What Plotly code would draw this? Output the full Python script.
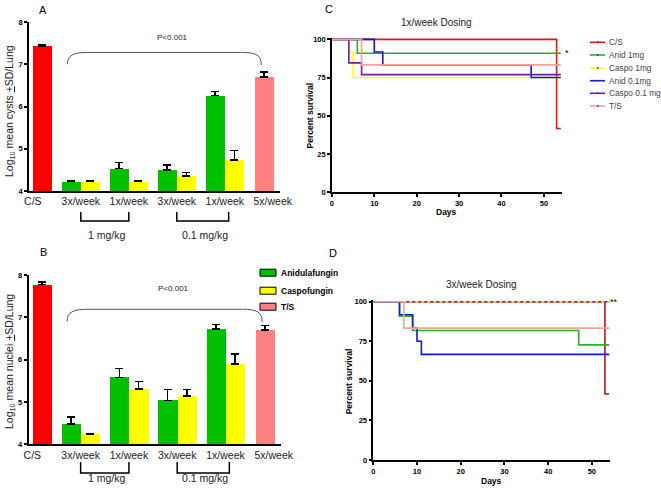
import plotly.graph_objects as go
import numpy as np

# ---------------- data ----------------
categories = ["C/S", "3x/week", "1x/week", "3x/week", "1x/week", "5x/week"]
dose_groups = ["1 mg/kg", "0.1 mg/kg"]
bar_series = ["Anidulafungin", "Caspofungin", "T/S"]

# Panel A: log10 mean cysts
cs_A, cs_A_sd = [7.43], [0.04]
anid_A = [4.22, 4.53, 4.50, 6.26]
anid_A_sd = [0.02, 0.15, 0.12, 0.10]
caspo_A = [4.22, 4.22, 4.36, 4.73]
caspo_A_sd = [0.02, 0.02, 0.08, 0.23]
ts_A, ts_A_sd = [6.70], [0.12]

# Panel B: log10 mean nuclei
cs_B, cs_B_sd = [7.77], [0.06]
anid_B = [4.48, 5.58, 5.04, 6.72]
anid_B_sd = [0.16, 0.21, 0.26, 0.11]
caspo_B = [4.24, 5.31, 5.14, 5.90]
caspo_B_sd = [0.01, 0.17, 0.16, 0.23]
ts_B, ts_B_sd = [6.70], [0.11]

# Survival curves (days, percent survival), step functions
surv_names = ["C/S", "Anid 1mg", "Caspo 1mg", "Anid 0.1mg", "Caspo 0.1 mg", "T/S"]
# Panel C: 1x/week dosing
C_cs_days, C_cs_surv = [0, 53, 54], [100, 41.7, 41.7]
C_anid1_days, C_anid1_surv = [0, 6, 54], [100, 90.9, 90.9]
C_caspo1_days, C_caspo1_surv = [0, 4, 5, 54], [100, 91.7, 75.0, 75.0]
C_anid01_days, C_anid01_surv = [0, 10, 12, 47, 54], [100, 91.7, 83.3, 75.0, 75.0]
C_caspo01_days, C_caspo01_surv = [0, 4, 7, 54], [100, 84.6, 76.9, 76.9]
C_ts_days, C_ts_surv = [0, 7, 54], [100, 83.3, 83.3]
# Panel D: 3x/week dosing
D_cs_days, D_cs_surv = [0, 53, 54], [100, 41.7, 41.7]
D_anid1_days, D_anid1_surv = [0, 6, 9, 47, 54], [100, 90.9, 81.8, 72.7, 72.7]
D_caspo1_days, D_caspo1_surv = [0, 54], [100, 100]
D_anid01_days, D_anid01_surv = [0, 6, 9, 10, 11, 54], [100, 91.7, 83.3, 75.0, 66.7, 66.7]
D_caspo01_days, D_caspo01_surv = [0, 54], [100, 100]
D_ts_days, D_ts_surv = [0, 7, 54], [100, 83.3, 83.3]

# ---------------- styling ----------------
W, H = 661, 495
FONT = "Liberation Sans, Arial, sans-serif"
RED, GREEN, YELLOW, PINK = "#FF0000", "#00C000", "#FFFF00", "#FF8080"
S_RED, S_GREEN, S_YELLOW, S_BLUE, S_PURPLE, S_PINK = (
    "#EE1111", "#22B422", "#FFFF22", "#1414E6", "#6E1E96", "#F5A0A0")

def px(x):
    return x / W

def py(y):
    return 1 - y / H

idx = np.arange(len(categories))
mid = idx[1:5]

fig = go.Figure()

def err(sd):
    return dict(type="data", array=sd, arrayminus=[0] * len(sd), symmetric=False,
                color="black", thickness=1.5, width=4)

def add_bars(xa, ya, cs, cs_sd, an, an_sd, ca, ca_sd, ts, ts_sd):
    fig.add_trace(go.Bar(x=idx[:1], y=cs, error_y=err(cs_sd), offset=0, width=0.4,
                         marker=dict(color=RED, line=dict(width=0)), xaxis=xa, yaxis=ya,
                         showlegend=False))
    fig.add_trace(go.Bar(x=mid, y=an, error_y=err(an_sd), offset=-0.4, width=0.4,
                         marker=dict(color=GREEN, line=dict(width=0)), xaxis=xa, yaxis=ya,
                         showlegend=False))
    fig.add_trace(go.Bar(x=mid, y=ca, error_y=err(ca_sd), offset=0, width=0.4,
                         marker=dict(color=YELLOW, line=dict(width=0)), xaxis=xa, yaxis=ya,
                         showlegend=False))
    fig.add_trace(go.Bar(x=idx[5:], y=ts, error_y=err(ts_sd), offset=-0.38, width=0.4,
                         marker=dict(color=PINK, line=dict(width=0)), xaxis=xa, yaxis=ya,
                         showlegend=False))

add_bars("x", "y", cs_A, cs_A_sd, anid_A, anid_A_sd, caspo_A, caspo_A_sd, ts_A, ts_A_sd)
add_bars("x2", "y2", cs_B, cs_B_sd, anid_B, anid_B_sd, caspo_B, caspo_B_sd, ts_B, ts_B_sd)

def step(xa, ya, d, s, color, dash="solid"):
    fig.add_trace(go.Scatter(x=d, y=s, mode="lines", line=dict(shape="hv", color=color,
                             width=1.6, dash=dash), xaxis=xa, yaxis=ya, showlegend=False,
                             hoverinfo="skip"))

step("x3", "y3", C_cs_days, C_cs_surv, S_RED)
step("x3", "y3", C_anid1_days, C_anid1_surv, S_GREEN)
step("x3", "y3", C_caspo1_days, C_caspo1_surv, S_YELLOW)
step("x3", "y3", C_anid01_days, C_anid01_surv, S_BLUE)
step("x3", "y3", C_caspo01_days, C_caspo01_surv, S_PURPLE)
step("x3", "y3", C_ts_days, C_ts_surv, S_PINK)

step("x4", "y4", D_caspo01_days, D_caspo01_surv, S_PURPLE)
step("x4", "y4", D_cs_days, D_cs_surv, "#B8141C")
step("x4", "y4", D_caspo1_days, D_caspo1_surv, S_YELLOW, dash="dot")
step("x4", "y4", D_anid1_days, D_anid1_surv, S_GREEN)
step("x4", "y4", D_anid01_days, D_anid01_surv, S_BLUE)
step("x4", "y4", D_ts_days, D_ts_surv, S_PINK)

# ---------------- axes ----------------
bold_tick = dict(family=FONT, size=7.5, color="black", weight="bold")
common = dict(showgrid=False, zeroline=False, showline=True, linecolor="black",
              linewidth=1.5, automargin=False)

bar_x = dict(common, range=[-0.08, 5.15], tickvals=idx, ticktext=categories, ticks="",
             tickfont=dict(family=FONT, size=10.5, color="#222"))
bar_y = dict(common, range=[4, 8], dtick=1, ticks="outside", ticklen=3, tickwidth=1.5,
             tickcolor="black", tickfont=bold_tick)
surv_x = dict(common, range=[0, 54.2], dtick=10, ticks="outside", ticklen=3, tickwidth=1.5,
              tickcolor="black", tickfont=bold_tick)
surv_y = dict(common, range=[0, 101], tickvals=[0, 25, 50, 75, 100], ticks="outside",
              ticklen=3, tickwidth=1.5, tickcolor="black", tickfont=bold_tick)

fig.update_layout(
    xaxis=dict(bar_x, domain=[px(29), px(280)], anchor="y"),
    yaxis=dict(bar_y, domain=[py(191), py(22)], anchor="x"),
    xaxis2=dict(bar_x, domain=[px(28.5), px(281)], anchor="y2"),
    yaxis2=dict(bar_y, domain=[py(444.3), py(275)], anchor="x2"),
    xaxis3=dict(surv_x, domain=[px(331.9), px(561.7)], anchor="y3"),
    yaxis3=dict(surv_y, domain=[py(192.3), py(37.8)], anchor="x3"),
    xaxis4=dict(surv_x, domain=[px(373.3), px(610.2)], anchor="y4"),
    yaxis4=dict(surv_y, domain=[py(460), py(300.1)], anchor="x4"),
)

# ---------------- annotations / shapes ----------------
ann = []
shapes = []

def text(x, y, s, size=10, bold=False, color="black", angle=0, xanchor="center"):
    ann.append(dict(x=px(x), y=py(y), xref="paper", yref="paper", text=s, showarrow=False,
                    textangle=angle, xanchor=xanchor, yanchor="middle",
                    font=dict(family=FONT, size=size, color=color,
                              weight="bold" if bold else "normal")))

# panel letters
text(43, 9.5, "A", 11)
text(43, 252, "B", 11)
text(329, 8.5, "C", 11)
text(332.5, 253, "D", 11)

# y titles of bar panels
text(10, 111, "Log<sub>10</sub> mean cysts <u>+</u>SD/Lung", 10.5, color="#222", angle=-90)
text(10, 362, "Log<sub>10</sub> mean nuclei <u>+</u>SD/Lung", 10.5, color="#222", angle=-90)

# P values
for yref, yv in (("y", 7.64), ("y2", 7.67)):
    ann.append(dict(x=2.92, y=yv, xref=yref.replace("y", "x"), yref=yref, text="P<0.001",
                    showarrow=False, font=dict(family=FONT, size=8, color="#222")))

# big curved brackets
shapes.append(dict(type="path", xref="x", yref="y", line=dict(color="#555", width=1),
                   path="M 0.72,7.0 C 0.72,7.22 0.85,7.28 1.15,7.28 L 4.35,7.28 "
                        "C 4.65,7.28 4.76,7.22 4.76,6.98"))
shapes.append(dict(type="path", xref="x2", yref="y2", line=dict(color="#555", width=1),
                   path="M 0.72,6.90 C 0.72,7.13 0.85,7.19 1.15,7.19 L 4.35,7.19 "
                        "C 4.65,7.19 4.76,7.13 4.76,6.88"))

# dose brackets
for xr, y1, y2, ylab in (("x", 212, 221, 235), ("x2", 462, 473, 486)):
    for (a, b), lab in zip(((1, 2), (3, 4.08)), dose_groups):
        shapes.append(dict(type="path", xref=xr, yref="paper", line=dict(color="black", width=1.5),
                           path=f"M {a},{py(y1)} L {a},{py(y2)} L {b},{py(y2)} L {b},{py(y1)}"))
        ann.append(dict(x=(a + b) / 2 + 0.04, y=py(ylab), xref=xr, yref="paper", text=lab,
                        showarrow=False, font=dict(family=FONT, size=10.5, color="#222")))

# bar legend
for lab, col, yc in zip(bar_series, (GREEN, YELLOW, PINK), (272.7, 290.7, 306.7)):
    shapes.append(dict(type="rect", xref="paper", yref="paper", x0=px(260), x1=px(276),
                       y0=py(yc + 3.5), y1=py(yc - 3.5), fillcolor=col,
                       line=dict(color="black", width=1)))
    text(278.5, yc, lab, 8.5, bold=True, xanchor="left")

# survival legend
for lab, col, yc in zip(surv_names, (S_RED, S_GREEN, S_YELLOW, S_BLUE, S_PURPLE, S_PINK),
                        (42.3, 55, 68, 80.7, 93.3, 106)):
    shapes.append(dict(type="line", xref="paper", yref="paper", x0=px(590), x1=px(605),
                       y0=py(yc), y1=py(yc), line=dict(color=col, width=1.6)))
    shapes.append(dict(type="rect", xref="paper", yref="paper", x0=px(597), x1=px(598.5),
                       y0=py(yc + 0.7), y1=py(yc - 0.7), fillcolor="#333", line=dict(width=0)))
    text(606.5, yc, lab, 8.3, color="#444", xanchor="left")

# survival titles
text(436.7, 22.7, "1x/week Dosing", 10, color="#222")
text(481.7, 284.3, "3x/week Dosing", 10, color="#222")
text(446.7, 212.3, "Days", 8.5, bold=True)
text(491, 480.7, "Days", 8.5, bold=True)
text(309, 115.5, "Percent survival", 8.5, bold=True, angle=-90)
text(349.3, 381, "Percent survival", 8.5, bold=True, angle=-90)
text(567, 53, "*", 9)
text(614, 302, "**", 9)

fig.update_layout(
    template="none",
    width=W, height=H,
    margin=dict(l=0, r=0, t=0, b=0),
    paper_bgcolor="white", plot_bgcolor="white",
    barmode="overlay", bargap=0,
    showlegend=False,
    annotations=ann, shapes=shapes,
    font=dict(family=FONT),
)

fig.write_html("out.html", config={"displayModeBar": False},
               post_script="document.body.style.margin='0px';document.body.style.overflow='hidden';")
